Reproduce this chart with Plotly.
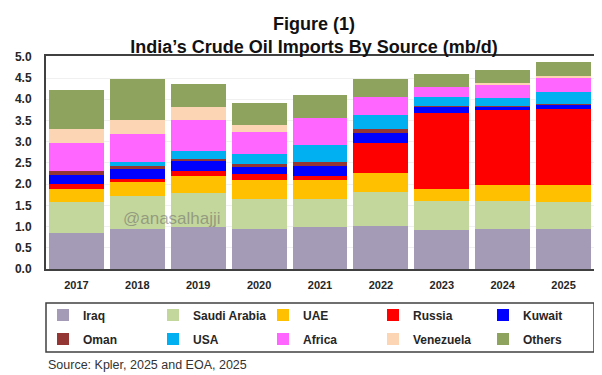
import plotly.graph_objects as go

years = ["2017", "2018", "2019", "2020", "2021", "2022", "2023", "2024", "2025"]

iraq      = [0.85, 0.94, 0.98, 0.94, 0.99, 1.02, 0.93, 0.94, 0.94]
saudi     = [0.74, 0.79, 0.82, 0.70, 0.66, 0.79, 0.68, 0.66, 0.63]
uae       = [0.29, 0.33, 0.40, 0.46, 0.45, 0.45, 0.28, 0.37, 0.41]
russia    = [0.12, 0.06, 0.12, 0.13, 0.09, 0.72, 1.79, 1.77, 1.79]
kuwait    = [0.22, 0.23, 0.23, 0.18, 0.24, 0.23, 0.16, 0.10, 0.11]
oman      = [0.08, 0.08, 0.04, 0.06, 0.09, 0.10, 0.01, 0.01, 0.02]
usa       = [0.00, 0.10, 0.20, 0.24, 0.41, 0.31, 0.20, 0.19, 0.27]
africa    = [0.66, 0.65, 0.72, 0.52, 0.62, 0.43, 0.24, 0.29, 0.33]
venezuela = [0.34, 0.33, 0.30, 0.16, 0.00, 0.00, 0.00, 0.06, 0.05]
others    = [0.91, 0.96, 0.55, 0.53, 0.56, 0.43, 0.31, 0.30, 0.32]

series_names = ["Iraq", "Saudi Arabia", "UAE", "Russia", "Kuwait",
                "Oman", "USA", "Africa", "Venezuela", "Others"]
series_values = [iraq, saudi, uae, russia, kuwait, oman, usa, africa, venezuela, others]
series_colors = ["#A49CB6", "#C3D69B", "#FFC000", "#FF0000", "#0000FF",
                 "#943634", "#00B0F0", "#FF66FF", "#FCD5B5", "#8EA45E"]

y_ticks = [0.0, 0.5, 1.0, 1.5, 2.0, 2.5, 3.0, 3.5, 4.0, 4.5, 5.0]

fig = go.Figure()
for i, (name, vals, col) in enumerate(zip(series_names, series_values, series_colors)):
    fig.add_trace(go.Bar(
        x=years, y=vals, name=name,
        marker=dict(color=col, line=dict(width=0)),
        legend="legend" if i < 5 else "legend2",
    ))

# page body has an 8px margin; compensate so the figure fills the window
OFF = 8
W, H = 602 - OFF, 375 - OFF
PL, PR, PT, PB = 46, 596, 56, 269          # plot area in page pixels
ml, mr, mt, mb = PL - OFF, 602 - PR, PT - OFF, 375 - PB
pw, ph = PR - PL, PB - PT

def px_to_paper_y(y):
    return (PB - y) / ph

def px_to_paper_x(x):
    return (x - PL) / pw

FONT = "Liberation Sans, Arial, sans-serif"
legend_font = dict(family=FONT, size=12, color="#262626", weight="bold")

fig.update_layout(
    width=W, height=H,
    margin=dict(l=ml, r=mr, t=mt, b=mb),
    barmode="stack",
    bargap=0.1,
    plot_bgcolor="white",
    paper_bgcolor="white",
    font=dict(family=FONT, color="#262626"),
    title=dict(
        text="<b>Figure (1)</b><br><b>India\u2019s Crude Oil Imports By Source (mb/d)</b>",
        x=(314 - OFF) / W, xanchor="center",
        y=1 - (30 - OFF) / H, yanchor="middle",
        font=dict(size=18, color="#111111"),
    ),
    xaxis=dict(
        showline=True, mirror=True, linecolor="#404040", linewidth=2,
        tickfont=dict(size=11, color="#262626", family=FONT, weight="bold"),
        ticklabelstandoff=5,
        showgrid=False,
    ),
    yaxis=dict(
        range=[0, 5.02],
        tickvals=y_ticks,
        tickformat=".1f",
        showline=True, mirror=True, linecolor="#404040", linewidth=2,
        gridcolor="#F0F0F0", gridwidth=1,
        tickfont=dict(size=12, color="#262626", family=FONT, weight="bold"),
        ticklabelstandoff=10,
        zeroline=False,
    ),
    legend=dict(
        orientation="h", x=px_to_paper_x(43), xanchor="left",
        y=px_to_paper_y(315), yanchor="middle",
        entrywidth=65, entrywidthmode="pixels",
        font=legend_font,
        bgcolor="rgba(0,0,0,0)", traceorder="normal",
    ),
    legend2=dict(
        orientation="h", x=px_to_paper_x(43), xanchor="left",
        y=px_to_paper_y(339), yanchor="middle",
        entrywidth=65, entrywidthmode="pixels",
        font=legend_font,
        bgcolor="rgba(0,0,0,0)", traceorder="normal",
    ),
    shapes=[dict(
        type="rect", xref="paper", yref="paper",
        x0=px_to_paper_x(46), x1=px_to_paper_x(596),
        y0=px_to_paper_y(303), y1=px_to_paper_y(352),
        line=dict(color="#404040", width=1.5), fillcolor="rgba(0,0,0,0)",
    )],
    annotations=[
        dict(text="@anasalhajji", xref="paper", yref="paper",
             x=px_to_paper_x(172), y=px_to_paper_y(218),
             xanchor="center", yanchor="middle", showarrow=False,
             font=dict(size=17, color="rgba(105,105,105,0.55)", family=FONT)),
        dict(text="Source: Kpler, 2025 and EOA, 2025", xref="paper", yref="paper",
             x=px_to_paper_x(46), y=px_to_paper_y(365),
             xanchor="left", yanchor="middle", showarrow=False,
             font=dict(size=12.5, color="#333333", family=FONT)),
    ],
)

fig.write_html("out.html")
